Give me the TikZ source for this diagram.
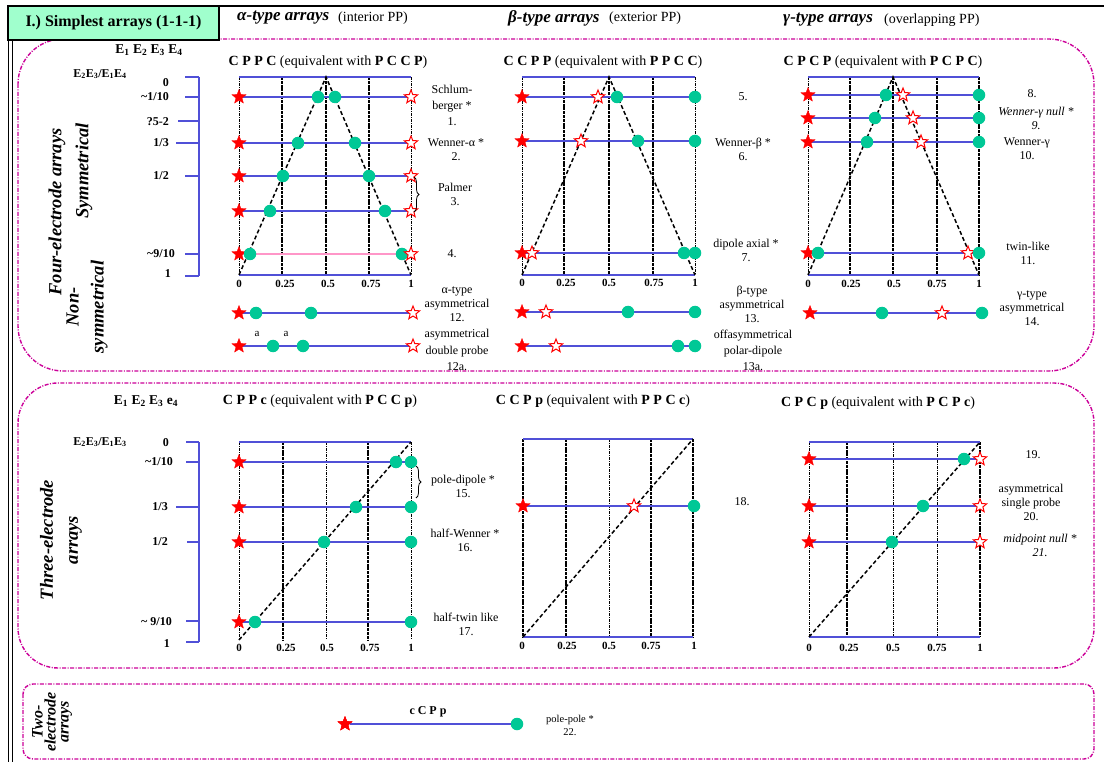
\documentclass[tikz,border=0pt]{standalone}
\usepackage{fontspec}
\setmainfont{Liberation Serif}
\usetikzlibrary{shapes.geometric,decorations.pathreplacing}
\definecolor{rowblue}{RGB}{80,80,215}
\definecolor{dotgreen}{RGB}{0,200,150}
\definecolor{magbox}{RGB}{204,0,153}
\definecolor{mint}{RGB}{160,255,205}
\definecolor{pinkline}{RGB}{255,150,200}
\definecolor{starred}{RGB}{255,0,0}
\newcommand\fsz[2]{\fontsize{#1}{#2}\selectfont}
\begin{document}
\begin{tikzpicture}[x=1pt,y=-1pt,
 fstar/.style={star,star points=5,star point ratio=2.3,minimum size=15,inner sep=0,fill=starred,draw=starred,line width=0.3},
 ostar/.style={star,star points=5,star point ratio=2.3,minimum size=14,inner sep=0,fill=white,draw=starred,line width=1},
 gdot/.style={circle,minimum size=12.5,inner sep=0,fill=dotgreen},
 rowl/.style={draw=rowblue,line width=1.4},
 pinkl/.style={draw=pinkline,line width=1.4},
 axl/.style={draw=rowblue,line width=1.8},
 thinv/.style={draw=black,line width=0.6,dash pattern=on 3 off 1 on 1 off 1},
 thickv/.style={draw=black,line width=2,dash pattern=on 3 off 0.8},
 tri/.style={draw=black,line width=1.5,dash pattern=on 4 off 2.5},
 magb/.style={draw=magbox,line width=1.4,dash pattern=on 4 off 1.5 on 1 off 1.5},
 lab/.style={font=\fsz{12}{14},align=center,inner sep=0},
 ilab/.style={font=\fsz{12}{14}\itshape,align=center,inner sep=0},
 ticklab/.style={font=\fsz{12}{14}\bfseries,anchor=east,inner sep=0},
 axnum/.style={font=\fsz{11}{13}\bfseries,inner sep=0},
 ptitle/.style={font=\fsz{14}{16},inner sep=0},
 rotlab/.style={font=\fsz{18.5}{25}\bfseries\itshape,rotate=90,align=center,inner sep=0},
 elab/.style={font=\fsz{13.5}{15}\bfseries,inner sep=0},
 brc/.style={decorate,decoration={brace,amplitude=5pt},draw=black,line width=0.8}
]
\useasboundingbox (0,0) rectangle (1104,762);
\fill[white] (0,0) rectangle (1104,762);
% outer frame
\draw[black,line width=1.5] (8,6) -- (1104,6);
\draw[black,line width=1] (8,6) -- (8,762);
\draw[black,line width=1] (12,40) -- (12,762);
% dashed group boxes
\draw[magb,rounded corners=45] (18,39) rectangle (1094,371);
\draw[magb,rounded corners=40] (18,383) rectangle (1094,668);
\draw[magb,rounded corners=10] (23,684) rectangle (1094,759);
% title box
\node[draw=black,line width=1.5,fill=mint,minimum width=211,minimum height=34,inner sep=0,font=\fsz{16}{18}\bfseries] (title) at (113.5,23) {I.) Simplest arrays (1-1-1)};
% column headers
\node[anchor=west,inner sep=0,font=\fsz{17}{19}\bfseries\itshape] (ha) at (237,18) {α-type arrays};
\node[anchor=west,inner sep=0,font=\fsz{14}{16}] (hap) at (338,18) {(interior PP)};
\node[anchor=west,inner sep=0,font=\fsz{17}{19}\bfseries\itshape] (hb) at (508,18) {β-type arrays};
\node[anchor=west,inner sep=0,font=\fsz{14}{16}] (hbp) at (609,18) {(exterior PP)};
\node[anchor=west,inner sep=0,font=\fsz{17}{19}\bfseries\itshape] (hg) at (783,20) {γ-type arrays};
\node[anchor=west,inner sep=0,font=\fsz{14}{16}] (hgp) at (884,20) {(overlapping PP)};
% rotated labels
\node[rotlab] (four) at (57,212) {Four-electrode arrays};
\node[rotlab] (sym) at (84,171) {Symmetrical};
\node[rotlab] (nonsym) at (87,307) {Non-\\symmetrical};
\node[rotlab] (three) at (61,540) {Three-electrode\\arrays};
\node[font=\fsz{16}{13}\bfseries\itshape,rotate=90,align=center,inner sep=0] (two) at (52,722) {Two-\\electrode\\arrays};
% ===== four-electrode scale =====
\node[elab] (e4) at (149,50) {E\textsubscript{1} E\textsubscript{2} E\textsubscript{3} E\textsubscript{4}};
\node[font=\fsz{12}{14}\bfseries,inner sep=0] (r4) at (100,74) {E\textsubscript{2}E\textsubscript{3}/E\textsubscript{1}E\textsubscript{4}};
\draw[axl] (199,77) -- (199,276);
\draw[axl] (185,77) -- (199,77);
\draw[axl] (185,97) -- (199,97);
\draw[axl] (178,121) -- (199,121);
\draw[axl] (176,143) -- (199,143);
\draw[axl] (185,176) -- (199,176);
\draw[axl] (185,254) -- (199,254);
\draw[axl] (185,276) -- (199,276);
\node[ticklab] at (169,83) {0};
\node[ticklab] at (169,97) {\textasciitilde1/10};
\node[ticklab] at (169,122) {?5-2};
\node[ticklab] at (169,143) {1/3};
\node[ticklab] at (169,176) {1/2};
\node[ticklab] at (175,254) {\textasciitilde9/10};
\node[ticklab] at (171,274) {1};
% ===== alpha four =====
\node[ptitle] (ta) at (328,62) {\textbf{C P P C} (equivalent with \textbf{P C C P})};
\draw[thinv] (239,77) -- (239,275);
\draw[thickv] (282,77) -- (282,275);
\draw[thickv] (326,77) -- (326,275);
\draw[thickv] (369,77) -- (369,275);
\draw[thinv] (411,77) -- (411,275);
\draw[rowl] (239,77) -- (411,77);
\draw[rowl] (239,275) -- (411,275);
\draw[tri] (239,275) -- (326,77) -- (411,275);
\foreach \y in {97,143,176,211}{\draw[rowl] (239,\y) -- (411,\y);}
\draw[pinkl] (239,254) -- (411,254);
\foreach \y/\a/\b in {97/318/335,143/298/355,176/283/369,211/270/385,254/250/402}{
  \node[fstar] (a4s\y) at (239,\y) {};
  \node[gdot] (a4p\y) at (\a,\y) {};
  \node[gdot] (a4q\y) at (\b,\y) {};
  \node[ostar] (a4o\y) at (411,\y) {};
}
\foreach \f/\t in {239/0,285/0.25,328/0.5,371/0.75,411/1}{\node[axnum] at (\f,284) {\t};}
\node[lab] (l1) at (452,105) {Schlum-\\[2pt]berger *\\[2pt]1.};
\node[lab] (l2) at (456,150) {Wenner-α *\\2.};
\draw[brc] (414,177) -- (414,212);
\node[lab] (l3) at (455,194) {Palmer\\3.};
\node[lab] (l4) at (452,254) {4.};
% 12, 12a
\draw[rowl] (239,313) -- (413,313);
\node[fstar] (s12) at (239,313) {};
\node[gdot] (p12) at (256,313) {};
\node[gdot] (q12) at (311,313) {};
\node[ostar] (o12) at (413,313) {};
\draw[rowl] (239,346) -- (413,346);
\node[fstar] (s12a) at (239,346) {};
\node[gdot] (p12a) at (273,346) {};
\node[gdot] (q12a) at (303,346) {};
\node[ostar] (o12a) at (413,346) {};
\node[font=\fsz{11}{13},inner sep=0] at (257,334) {a};
\node[font=\fsz{11}{13},inner sep=0] at (286,334) {a};
\node[lab] (l12) at (457,304) {α-type\\asymmetrical\\12.};
\node[lab,font=\fsz{12}{16.5}] (l12a) at (457,350) {asymmetrical\\double probe\\12a.};
% ===== beta four =====
\node[ptitle] (tb) at (603,62) {\textbf{C C P P} (equivalent with \textbf{P P C C})};
\draw[thinv] (522,77) -- (522,275);
\draw[thickv] (564,77) -- (564,275);
\draw[thickv] (609,77) -- (609,275);
\draw[thickv] (653,77) -- (653,275);
\draw[thinv] (695,77) -- (695,275);
\draw[rowl] (522,77) -- (695,77);
\draw[rowl] (522,275) -- (695,275);
\draw[tri] (522,275) -- (609,77) -- (695,275);
\foreach \y/\a/\b in {97/598/617,141/581/638,253/532/684}{
  \draw[rowl] (522,\y) -- (695,\y);
  \node[fstar] (b4s\y) at (522,\y) {};
  \node[ostar] (b4o\y) at (\a,\y) {};
  \node[gdot] (b4p\y) at (\b,\y) {};
  \node[gdot] (b4q\y) at (695,\y) {};
}
\foreach \f/\t in {522/0,566/0.25,609/0.5,654/0.75,695/1}{\node[axnum] at (\f,283) {\t};}
\node[lab] (l5) at (743,97) {5.};
\node[lab] (l6) at (743,149) {Wenner-β *\\6.};
\node[lab] (l7) at (746,250) {dipole axial *\\7.};
\foreach \y/\a/\b in {312/546/628,346/556/678}{
  \draw[rowl] (522,\y) -- (695,\y);
  \node[fstar] (b5s\y) at (522,\y) {};
  \node[ostar] (b5o\y) at (\a,\y) {};
  \node[gdot] (b5p\y) at (\b,\y) {};
  \node[gdot] (b5q\y) at (695,\y) {};
}
\node[lab] (l13) at (752,304) {β-type\\asymmetrical\\13.};
\node[lab,font=\fsz{12}{16}] (l13a) at (753,350) {offasymmetrical\\polar-dipole\\13a.};
% ===== gamma four =====
\node[ptitle] (tg) at (883,62) {\textbf{C P C P} (equivalent with \textbf{P C P C})};
\draw[thinv] (808,77) -- (808,275);
\draw[thickv] (850,77) -- (850,275);
\draw[thickv] (893,77) -- (893,275);
\draw[thickv] (937,77) -- (937,275);
\draw[thickv] (979,77) -- (979,275);
\draw[rowl] (808,77) -- (979,77);
\draw[rowl] (808,275) -- (979,275);
\draw[tri] (808,275) -- (893,77) -- (979,275);
\foreach \y/\a/\b in {95/886/903,118/875/913,142/867/921,253/818/968}{
  \draw[rowl] (808,\y) -- (979,\y);
  \node[fstar] (g4s\y) at (808,\y) {};
  \node[gdot] (g4p\y) at (\a,\y) {};
  \node[ostar] (g4o\y) at (\b,\y) {};
  \node[gdot] (g4q\y) at (979,\y) {};
}
\foreach \f/\t in {808/0,851/0.25,894/0.5,937/0.75,979/1}{\node[axnum] at (\f,284) {\t};}
\node[lab] (l8) at (1032,94) {8.};
\node[ilab] (l9) at (1036,118) {Wenner-γ null *\\9.};
\node[lab] (l10) at (1027,149) {Wenner-γ\\10.};
\node[lab] (l11) at (1028,253) {twin-like\\11.};
\draw[rowl] (810,313) -- (982,313);
\node[fstar] (s14) at (810,313) {};
\node[gdot] (p14) at (882,313) {};
\node[ostar] (o14) at (942,313) {};
\node[gdot] (q14) at (982,313) {};
\node[lab] (l14) at (1032,308) {γ-type\\asymmetrical\\14.};
% ===== three-electrode scale =====
\node[elab] (e3) at (146,401) {E\textsubscript{1} E\textsubscript{2} E\textsubscript{3} e\textsubscript{4}};
\node[font=\fsz{12}{14}\bfseries,inner sep=0] (r3) at (100,442) {E\textsubscript{2}E\textsubscript{3}/E\textsubscript{1}E\textsubscript{3}};
\draw[axl] (199,442) -- (199,642);
\draw[axl] (186,442) -- (199,442);
\draw[axl] (186,462) -- (199,462);
\draw[axl] (176,507) -- (199,507);
\draw[axl] (187,542) -- (199,542);
\draw[axl] (186,621) -- (199,621);
\draw[axl] (186,642) -- (199,642);
\node[ticklab] at (169,443) {0};
\node[ticklab] at (173,462) {\textasciitilde1/10};
\node[ticklab] at (168,507) {1/3};
\node[ticklab] at (168,542) {1/2};
\node[ticklab] at (172,622) {\textasciitilde\ 9/10};
\node[ticklab] at (170,644) {1};
% ===== CPPc =====
\node[ptitle] (tc1) at (320,401) {\textbf{C P P c} (equivalent with \textbf{P C C p})};
\draw[thinv] (239,442) -- (239,640);
\draw[thickv] (283,442) -- (283,640);
\draw[thinv] (326,442) -- (326,640);
\draw[thickv] (368,442) -- (368,640);
\draw[thinv] (411,442) -- (411,640);
\draw[rowl] (239,442) -- (411,442);
\draw[tri] (239,640) -- (411,442);
\foreach \y/\a in {462/396,507/356,542/324,622/255}{
  \draw[rowl] (239,\y) -- (411,\y);
  \node[fstar] (c1s\y) at (239,\y) {};
  \node[gdot] (c1p\y) at (\a,\y) {};
  \node[gdot] (c1q\y) at (411,\y) {};
}
\foreach \f/\t in {239/0,286/0.25,327/0.5,370/0.75,411/1}{\node[axnum] at (\f,648) {\t};}
\draw[brc] (416,466) -- (416,498);
\node[lab] (l15) at (463,486) {pole-dipole *\\15.};
\node[lab] (l16) at (465,540) {half-Wenner *\\16.};
\node[lab] (l17) at (466,624) {half-twin like\\17.};
% ===== CCPp =====
\node[ptitle] (tc2) at (593,401) {\textbf{C C P p} (equivalent with \textbf{P P C c})};
\draw[thickv,line width=1.4] (523,439) -- (523,637);
\draw[thickv] (566,439) -- (566,637);
\draw[thinv] (609,439) -- (609,637);
\draw[thickv] (651,439) -- (651,637);
\draw[thickv] (693,439) -- (693,637);
\draw[rowl] (523,439) -- (693,439);
\draw[rowl] (523,637) -- (693,637);
\draw[tri] (523,637) -- (693,439);
\draw[rowl] (523,506) -- (693,506);
\node[fstar] (c2s) at (523,506) {};
\node[ostar] (c2o) at (634,506) {};
\node[gdot] (c2p) at (694,506) {};
\foreach \f/\t in {522/0,567/0.25,609/0.5,651/0.75,694/1}{\node[axnum] at (\f,646) {\t};}
\node[lab] (l18) at (742,502) {18.};
% ===== CPCp =====
\node[ptitle] (tc3) at (878,403) {\textbf{C P C p} (equivalent with \textbf{P C P c})};
\draw[thinv] (809,442) -- (809,637);
\draw[thickv] (847,442) -- (847,637);
\draw[thinv] (893,442) -- (893,637);
\draw[thinv] (937,442) -- (937,637);
\draw[thickv] (980,442) -- (980,637);
\draw[rowl] (809,442) -- (980,442);
\draw[rowl] (809,637) -- (980,637);
\draw[tri] (809,637) -- (980,442);
\foreach \y/\a in {459/964,506/923,542/892}{
  \draw[rowl] (809,\y) -- (980,\y);
  \node[fstar] (c3s\y) at (809,\y) {};
  \node[gdot] (c3p\y) at (\a,\y) {};
  \node[ostar] (c3o\y) at (980,\y) {};
}
\foreach \f/\t in {809/0,849/0.25,893/0.5,937/0.75,980/1}{\node[axnum] at (\f,648) {\t};}
\node[lab] (l19) at (1033,455) {19.};
\node[lab] (l20) at (1031,502) {asymmetrical\\single probe\\20.};
\node[ilab] (l21) at (1040,545) {midpoint null *\\21.};
% ===== two-electrode =====
\node[fstar] (s22) at (345,724) {};
\node[gdot] (p22) at (517,724) {};
\draw[rowl] (s22) -- (p22);
\node[fstar] at (s22) {};
\node[font=\fsz{12}{14}\bfseries,inner sep=0] (t22) at (428,712) {c C P p};
\node[lab,font=\fsz{10.5}{13}] (l22) at (570,725) {pole-pole *\\22.};
\end{tikzpicture}
\end{document}
